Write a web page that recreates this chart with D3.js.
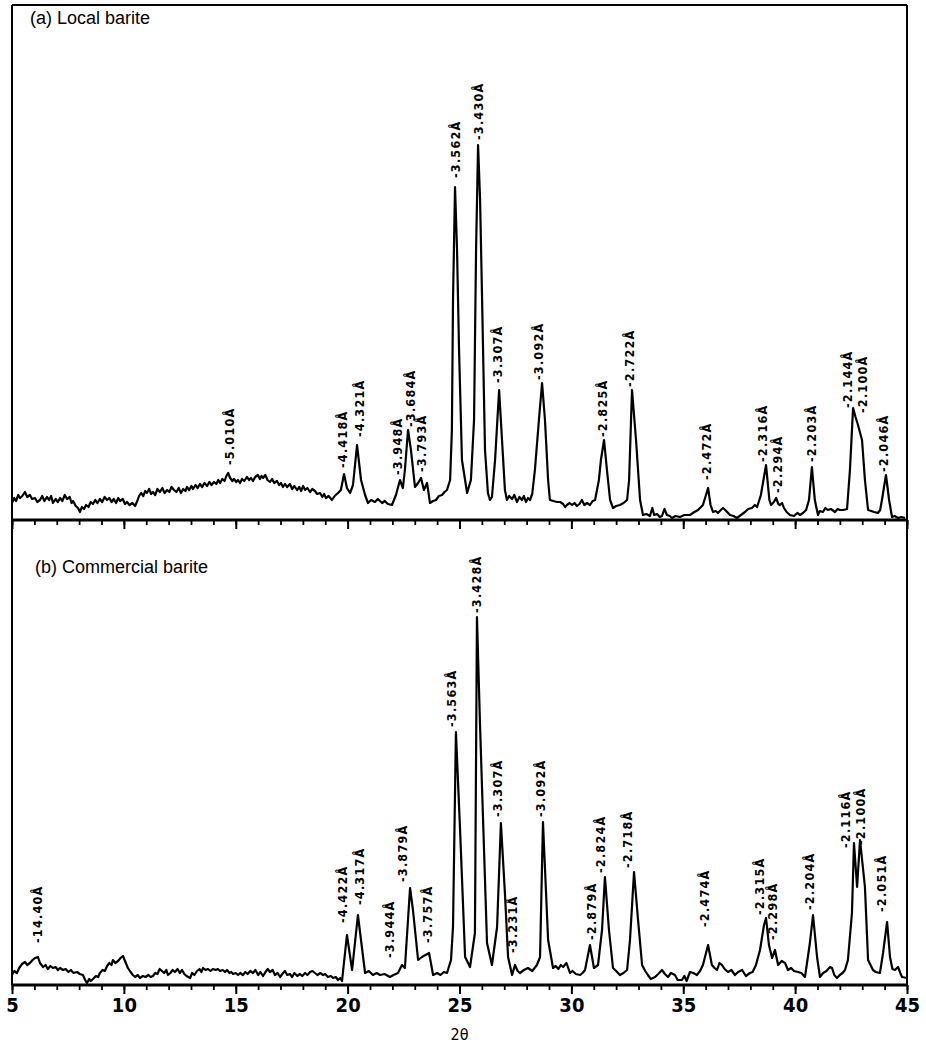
<!DOCTYPE html>
<html><head><meta charset="utf-8">
<script src="https://cdn.jsdelivr.net/npm/d3@7"></script>
<style>
html,body{margin:0;padding:0;background:#fff;}
svg{display:block;}
</style></head>
<body><svg id="chart" width="926" height="1052"></svg>
<script>
// ---------- Data: (a) Local barite — [2θ, counts] ----------
const patternA = [[5.00,17],[5.10,22],[5.18,19],[5.28,25],[5.36,22],[5.46,24],[5.58,28],[5.68,23],[5.80,25],[5.90,21],[6.03,22],[6.13,18],[6.25,20],[6.35,24],[6.45,19],[6.56,23],[6.66,20],[6.75,24],[6.83,17],[6.95,21],[7.05,18],[7.15,22],[7.25,19],[7.36,25],[7.46,21],[7.58,23],[7.66,17],[7.73,19],[7.85,14],[7.95,12],[8.04,8],[8.12,13],[8.22,11],[8.31,15],[8.42,13],[8.52,18],[8.62,16],[8.72,20],[8.82,17],[8.93,21],[9.03,18],[9.14,23],[9.25,20],[9.35,22],[9.45,18],[9.55,21],[9.65,17],[9.75,22],[9.83,19],[9.95,21],[10.05,16],[10.14,18],[10.25,15],[10.38,17],[10.50,14],[10.60,19],[10.68,24],[10.77,27],[10.87,24],[10.95,29],[11.03,27],[11.13,31],[11.22,26],[11.30,28],[11.40,25],[11.50,31],[11.61,28],[11.72,32],[11.82,27],[11.93,30],[12.03,28],[12.13,33],[12.24,30],[12.35,28],[12.45,32],[12.55,27],[12.65,31],[12.75,29],[12.82,33],[12.92,30],[13.02,34],[13.09,31],[13.20,35],[13.30,32],[13.40,36],[13.50,33],[13.60,37],[13.72,34],[13.82,38],[13.92,35],[14.03,38],[14.13,36],[14.22,40],[14.30,37],[14.40,41],[14.50,39],[14.58,44],[14.66,47],[14.75,42],[14.85,39],[14.92,41],[15.02,38],[15.10,40],[15.19,37],[15.28,41],[15.38,39],[15.50,43],[15.60,40],[15.68,42],[15.77,39],[15.87,43],[15.99,45],[16.08,41],[16.15,44],[16.22,42],[16.32,45],[16.42,40],[16.53,38],[16.62,41],[16.72,37],[16.84,39],[16.94,35],[17.02,37],[17.11,33],[17.20,36],[17.30,33],[17.42,36],[17.52,31],[17.62,34],[17.74,30],[17.84,33],[17.92,29],[18.01,34],[18.10,30],[18.20,32],[18.32,28],[18.42,31],[18.54,29],[18.64,26],[18.77,27],[18.87,23],[18.95,26],[19.03,22],[19.15,24],[19.30,20],[19.42,24],[19.57,27],[19.70,30],[19.84,46],[19.97,32],[20.11,27],[20.24,35],[20.42,75],[20.60,40],[20.78,25],[20.91,17],[21.05,20],[21.22,18],[21.35,21],[21.54,17],[21.66,19],[21.80,16],[21.98,15],[22.16,25],[22.34,40],[22.47,32],[22.56,50],[22.70,90],[22.83,70],[23.01,33],[23.15,37],[23.28,42],[23.41,30],[23.55,37],[23.68,17],[23.82,19],[23.95,20],[24.08,24],[24.22,25],[24.33,28],[24.44,30],[24.58,40],[24.66,90],[24.71,220],[24.80,333],[24.89,270],[24.98,170],[25.11,60],[25.34,27],[25.51,40],[25.65,100],[25.74,270],[25.83,375],[25.92,320],[26.01,220],[26.14,70],[26.27,27],[26.36,20],[26.45,23],[26.59,60],[26.77,130],[26.90,80],[27.03,30],[27.12,20],[27.22,24],[27.35,21],[27.45,25],[27.57,18],[27.68,23],[27.79,20],[27.88,24],[27.97,18],[28.06,22],[28.15,20],[28.25,26],[28.37,50],[28.55,100],[28.69,137],[28.82,100],[28.96,40],[29.04,20],[29.20,19],[29.36,18],[29.50,18],[29.63,16],[29.72,13],[29.80,15],[29.92,17],[30.03,15],[30.14,17],[30.25,14],[30.36,16],[30.47,20],[30.58,15],[30.70,17],[30.83,15],[30.95,19],[31.06,20],[31.23,40],[31.32,60],[31.46,80],[31.59,50],[31.73,20],[31.86,12],[32.00,14],[32.17,15],[32.33,17],[32.49,20],[32.58,40],[32.71,130],[32.89,80],[33.07,20],[33.20,5],[33.35,6],[33.51,4],[33.62,12],[33.70,5],[33.83,6],[33.95,3],[34.05,4],[34.16,11],[34.27,5],[34.40,4],[34.50,2],[34.65,4],[34.85,3],[35.05,5],[35.30,5],[35.50,8],[35.66,10],[35.88,15],[36.11,32],[36.22,15],[36.33,8],[36.45,9],[36.55,7],[36.68,10],[36.78,12],[36.92,9],[37.09,5],[37.25,4],[37.40,2],[37.58,5],[37.76,8],[37.90,11],[38.07,12],[38.20,15],[38.30,13],[38.47,25],[38.70,55],[38.85,20],[38.92,15],[39.05,18],[39.15,22],[39.25,16],[39.32,15],[39.42,17],[39.50,12],[39.62,8],[39.77,5],[39.95,4],[40.10,7],[40.22,5],[40.35,7],[40.49,10],[40.62,20],[40.75,53],[40.88,20],[41.02,5],[41.10,9],[41.24,8],[41.35,12],[41.46,10],[41.60,11],[41.78,8],[41.90,11],[42.00,10],[42.15,10],[42.32,11],[42.45,50],[42.59,112],[42.70,103],[42.81,95],[42.99,80],[43.12,40],[43.26,10],[43.40,9],[43.53,8],[43.70,7],[43.80,10],[43.88,20],[44.06,45],[44.20,20],[44.33,3],[44.45,4],[44.60,2],[44.75,3],[44.91,2]];
const peakTextA  = ["-5.010Å","-4.418Å","-4.321Å","-3.948Å","-3.684Å","-3.793Å","-3.562Å","-3.430Å","-3.307Å","-3.092Å","-2.825Å","-2.722Å","-2.472Å","-2.316Å","-2.294Å","-2.203Å","-2.144Å","-2.100Å","-2.046Å"];
const peakThetaA = [14.74,19.79,20.51,22.25,22.79,23.32,24.80,25.87,26.72,28.51,31.37,32.62,36.06,38.52,39.23,40.75,42.32,43.03,43.93];
const peakLevelA = [55,52,83,45,93,48,342,380,137,140,83,133,40,58,27,58,112,107,48];

// ---------- Data: (b) Commercial barite — [2θ, counts] ----------
const patternB = [[5.00,10],[5.10,14],[5.22,12],[5.32,17],[5.45,21],[5.58,23],[5.68,20],[5.80,22],[5.92,25],[6.03,27],[6.16,28],[6.25,22],[6.39,18],[6.50,20],[6.60,16],[6.72,19],[6.83,17],[6.95,18],[7.05,15],[7.15,17],[7.28,15],[7.40,16],[7.52,13],[7.63,15],[7.75,12],[7.91,13],[8.03,11],[8.17,10],[8.27,5],[8.35,2],[8.45,6],[8.52,4],[8.62,6],[8.75,9],[8.85,8],[8.93,12],[9.05,15],[9.15,14],[9.25,19],[9.35,22],[9.45,20],[9.51,25],[9.62,22],[9.74,24],[9.85,27],[9.96,29],[10.05,24],[10.18,17],[10.30,13],[10.40,10],[10.50,8],[10.62,10],[10.72,7],[10.85,9],[10.97,8],[11.10,10],[11.20,8],[11.30,9],[11.40,12],[11.50,11],[11.60,16],[11.70,14],[11.80,12],[11.90,15],[11.97,10],[12.08,12],[12.18,15],[12.28,13],[12.40,16],[12.50,12],[12.60,15],[12.70,11],[12.80,9],[12.96,7],[13.05,12],[13.15,10],[13.27,14],[13.38,16],[13.46,13],[13.54,17],[13.65,15],[13.76,16],[13.87,14],[13.98,16],[14.10,15],[14.20,16],[14.30,14],[14.42,15],[14.52,13],[14.61,15],[14.72,12],[14.80,13],[14.88,11],[15.00,12],[15.10,10],[15.20,12],[15.32,10],[15.43,13],[15.53,11],[15.65,14],[15.77,12],[15.88,15],[16.00,10],[16.10,13],[16.22,9],[16.33,13],[16.43,16],[16.53,13],[16.65,15],[16.75,10],[16.87,12],[16.98,8],[17.08,11],[17.20,14],[17.30,10],[17.42,11],[17.52,8],[17.62,12],[17.75,9],[17.87,11],[17.97,9],[18.10,12],[18.20,10],[18.32,13],[18.43,14],[18.54,12],[18.65,10],[18.78,12],[18.90,10],[19.00,11],[19.12,8],[19.25,9],[19.35,7],[19.47,8],[19.57,5],[19.67,7],[19.75,4],[19.97,50],[20.20,15],[20.46,70],[20.78,12],[20.95,14],[21.13,10],[21.30,12],[21.45,10],[21.65,11],[21.89,8],[22.05,10],[22.25,12],[22.43,20],[22.56,17],[22.79,97],[22.92,75],[23.15,25],[23.32,28],[23.64,32],[23.82,10],[24.00,12],[24.15,10],[24.30,13],[24.44,12],[24.62,25],[24.71,58],[24.84,253],[25.02,158],[25.25,28],[25.47,18],[25.69,52],[25.78,368],[25.92,258],[26.23,42],[26.45,20],[26.68,58],[26.85,162],[27.03,92],[27.17,28],[27.35,10],[27.48,20],[27.60,14],[27.70,12],[27.88,15],[28.06,17],[28.25,14],[28.46,20],[28.60,28],[28.73,163],[28.96,45],[29.18,17],[29.30,19],[29.42,16],[29.53,20],[29.63,18],[29.78,22],[29.94,12],[30.05,14],[30.20,11],[30.39,10],[30.50,12],[30.61,15],[30.83,40],[31.01,17],[31.19,20],[31.37,55],[31.50,108],[31.68,55],[31.86,17],[32.00,14],[32.17,10],[32.33,12],[32.49,15],[32.62,45],[32.80,113],[32.98,65],[33.16,20],[33.30,14],[33.42,10],[33.55,6],[33.74,8],[33.88,11],[34.05,15],[34.18,11],[34.32,8],[34.45,12],[34.63,10],[34.75,5],[34.94,5],[35.05,9],[35.15,4],[35.30,13],[35.45,12],[35.61,10],[35.75,14],[35.88,20],[36.11,40],[36.28,20],[36.40,17],[36.51,15],[36.62,22],[36.73,20],[36.85,16],[37.00,13],[37.15,15],[37.31,10],[37.45,13],[37.63,15],[37.80,9],[37.98,12],[38.10,13],[38.25,20],[38.43,35],[38.61,60],[38.70,67],[38.83,40],[38.97,27],[39.10,35],[39.24,20],[39.40,24],[39.55,22],[39.68,15],[39.82,17],[39.95,14],[40.13,13],[40.28,12],[40.44,8],[40.66,42],[40.80,70],[40.98,28],[41.11,8],[41.25,12],[41.40,14],[41.56,18],[41.65,17],[41.75,10],[41.87,7],[42.00,10],[42.12,12],[42.23,15],[42.36,25],[42.54,72],[42.63,142],[42.77,98],[42.90,145],[43.12,98],[43.26,25],[43.48,15],[43.60,13],[43.79,12],[43.93,32],[44.11,63],[44.24,28],[44.35,16],[44.46,15],[44.60,18],[44.70,12],[44.78,8],[45.00,7]];
const peakTextB  = ["-14.40Å","-4.422Å","-4.317Å","-3.944Å","-3.879Å","-3.757Å","-3.563Å","-3.428Å","-3.307Å","-3.231Å","-3.092Å","-2.879Å","-2.824Å","-2.718Å","-2.474Å","-2.315Å","-2.298Å","-2.204Å","-2.116Å","-2.100Å","-2.051Å"];
const peakThetaB = [6.16,19.79,20.51,21.89,22.47,23.55,24.66,25.74,26.68,27.39,28.60,30.92,31.28,32.53,35.97,38.43,39.01,40.66,42.23,42.90,43.88];
const peakLevelB = [42,62,80,27,103,42,258,372,168,32,168,45,112,117,58,70,45,75,137,140,73];

// ---------- Axis ticks & texts ----------
const majorTicks = [5,10,15,20,25,30,35,40,45];
const minorTicks = [5,6,7,8,9,10,11,12,13,14,15,16,17,18,19,20,21,22,23,24,25,26,27,28,29,30,31,32,33,34,35,36,37,38,39,40,41,42,43,44,45];
const panelTitles = ["(a)  Local barite","(b)  Commercial barite"];
const xTitle = "2θ";

// ---------- Layout ----------
const L = 12, R = 907, T = 5, M = 520, B = 985;
const svg = d3.select('#chart');
const x = d3.scaleLinear().domain([5,45]).range([L,R]);
const yA = d3.scaleLinear().domain([0,515]).range([M,T]);
const yB = d3.scaleLinear().domain([0,465]).range([B,M]);

function drawCurve(pts, y){
  svg.append('path').datum(pts)
    .attr('fill','none').attr('stroke','#000').attr('stroke-width',2.2)
    .attr('stroke-linejoin','round')
    .attr('d', d3.line().x(d=>x(d[0])).y(d=>y(d[1])));
}
drawCurve(patternA, yA);
drawCurve(patternB, yB);

function drawLabels(texts, thetas, levels, y){
  const g = svg.append('g');
  texts.forEach((t,i)=>{
    g.append('text')
      .attr('transform',`translate(${x(thetas[i])},${y(levels[i])}) rotate(-90)`)
      .attr('dy','0.36em')
      .attr('text-anchor','start')
      .style('font-family','"DejaVu Sans Condensed","DejaVu Sans",sans-serif')
      .style('font-stretch','condensed')
      .style('font-weight','bold')
      .style('font-size','12.5px')
      .style('letter-spacing','1.2px')
      .text(t);
  });
}
drawLabels(peakTextA, peakThetaA, peakLevelA, yA);
drawLabels(peakTextB, peakThetaB, peakLevelB, yB);

function ticks(yPos, labels){
  const gMinor = svg.append('g').attr('transform',`translate(0,${yPos})`)
    .call(d3.axisBottom(x).tickValues(minorTicks).tickSize(5).tickFormat(''));
  gMinor.select('.domain').remove();
  gMinor.selectAll('line').attr('stroke-width',1.8);
  const gMajor = svg.append('g').attr('transform',`translate(0,${yPos})`)
    .call(d3.axisBottom(x).tickValues(majorTicks).tickSize(9).tickPadding(4)
      .tickFormat(labels ? d3.format('d') : ''));
  gMajor.select('.domain').remove();
  gMajor.selectAll('line').attr('stroke-width',2);
  gMajor.selectAll('text')
    .style('font-family','"Liberation Sans Narrow","DejaVu Sans Condensed",sans-serif')
    .style('font-weight','bold').style('font-size','20px').attr('fill','#000');
}
ticks(M,false);
ticks(B,true);

// frame
const frame = [[L,T,R,T,2],[L,T,L,B,2],[R,T,R,B,2],[L,M,R,M,3],[L,B,R,B,3]];
frame.forEach(f=>svg.append('line').attr('x1',f[0]).attr('y1',f[1]).attr('x2',f[2]).attr('y2',f[3])
  .attr('stroke','#000').attr('stroke-width',f[4]));

// panel titles
svg.append('text').attr('x',30).attr('y',24).text(panelTitles[0])
  .style('font-family','"Liberation Sans",Arial,sans-serif').style('font-size','18px');
svg.append('text').attr('x',35).attr('y',573).text(panelTitles[1])
  .style('font-family','"Liberation Sans",Arial,sans-serif').style('font-size','18px');

// x title
svg.append('text').attr('x',x(25)).attr('y',1040).attr('text-anchor','middle').text(xTitle)
  .style('font-family','"Liberation Sans Narrow","DejaVu Sans Condensed",sans-serif').style('font-size','16px');
</script>
</body></html>
